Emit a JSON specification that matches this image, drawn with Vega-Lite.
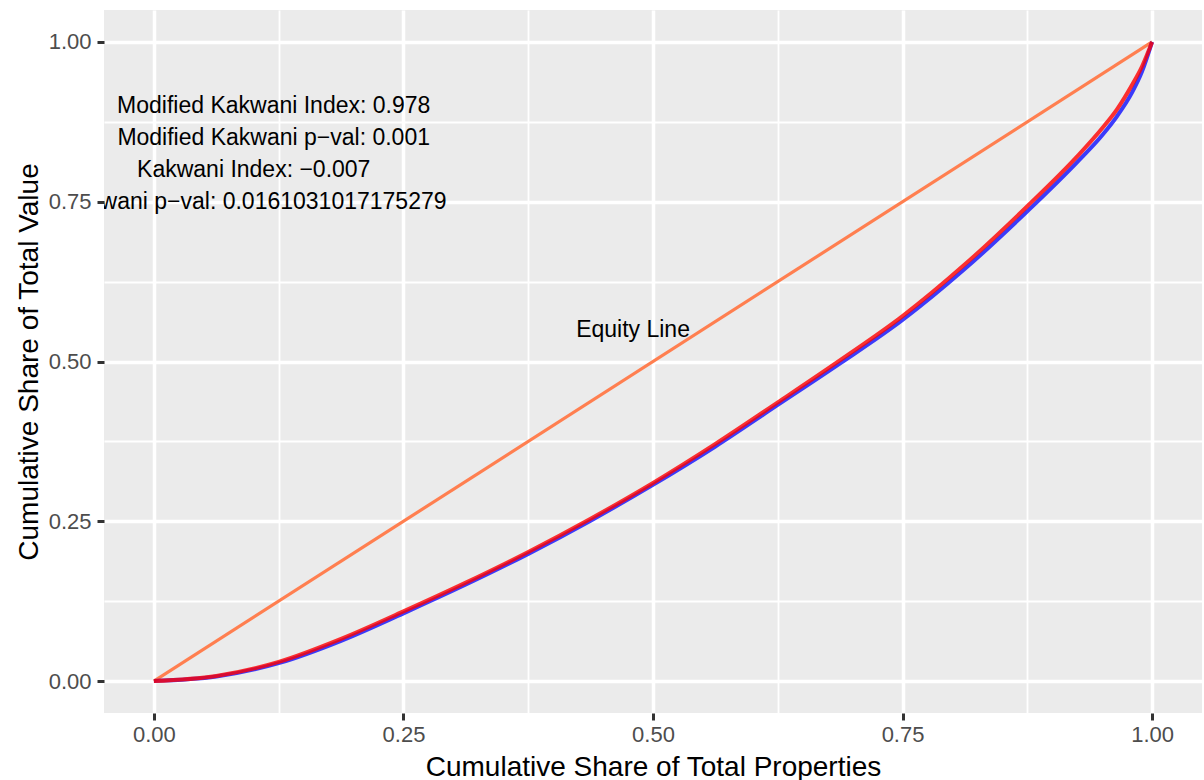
{
  "$schema": "https://vega.github.io/schema/vega-lite/v6.json",
  "width": 1098,
  "height": 703,
  "autosize": {"type": "none"},
  "padding": {"left": 104, "top": 10, "right": 2, "bottom": 67},
  "background": "white",
  "config": {
    "view": {"fill": "#EBEBEB", "stroke": null},
    "font": "Liberation Sans"
  },
  "datasets": {
    "equity": [
      {"x": 0, "y": 0},
      {"x": 1, "y": 1}
    ],
    "lorenz": [
      {"x": 0, "y": 0},
      {"x": 0.0625, "y": 0.007},
      {"x": 0.125, "y": 0.028},
      {"x": 0.1875, "y": 0.063},
      {"x": 0.25, "y": 0.106},
      {"x": 0.3125, "y": 0.151},
      {"x": 0.375, "y": 0.199},
      {"x": 0.4375, "y": 0.251},
      {"x": 0.5, "y": 0.307},
      {"x": 0.5625, "y": 0.367},
      {"x": 0.625, "y": 0.432},
      {"x": 0.6875, "y": 0.497},
      {"x": 0.75, "y": 0.565},
      {"x": 0.8125, "y": 0.645},
      {"x": 0.875, "y": 0.735},
      {"x": 0.925, "y": 0.812},
      {"x": 0.95, "y": 0.854},
      {"x": 0.965, "y": 0.884},
      {"x": 0.98, "y": 0.921},
      {"x": 0.99, "y": 0.954},
      {"x": 1, "y": 1}
    ],
    "concentration": [
      {"x": 0, "y": 0},
      {"x": 0.0625, "y": 0.008},
      {"x": 0.125, "y": 0.030},
      {"x": 0.1875, "y": 0.066},
      {"x": 0.25, "y": 0.109},
      {"x": 0.3125, "y": 0.154},
      {"x": 0.375, "y": 0.202},
      {"x": 0.4375, "y": 0.254},
      {"x": 0.5, "y": 0.310},
      {"x": 0.5625, "y": 0.371},
      {"x": 0.625, "y": 0.436},
      {"x": 0.6875, "y": 0.502},
      {"x": 0.75, "y": 0.571},
      {"x": 0.8125, "y": 0.652},
      {"x": 0.875, "y": 0.743},
      {"x": 0.925, "y": 0.821},
      {"x": 0.95, "y": 0.865},
      {"x": 0.965, "y": 0.895},
      {"x": 0.98, "y": 0.933},
      {"x": 0.99, "y": 0.962},
      {"x": 1, "y": 1}
    ],
    "notes": [
      {"x": 0.12, "y": 0.9, "label": "Modified Kakwani Index: 0.978"},
      {"x": 0.12, "y": 0.85, "label": "Modified Kakwani p−val: 0.001"},
      {"x": 0.1, "y": 0.8, "label": "Kakwani Index: −0.007"},
      {"x": 0.1, "y": 0.75, "label": "Kakwani p−val: 0.0161031017175279"},
      {"x": 0.48, "y": 0.55, "label": "Equity Line"}
    ]
  },
  "encoding": {
    "x": {
      "field": "x",
      "type": "quantitative",
      "scale": {"domain": [-0.05, 1.05], "nice": false, "zero": false},
      "axis": {
        "title": "Cumulative Share of Total Properties",
        "values": [0, 0.125, 0.25, 0.375, 0.5, 0.625, 0.75, 0.875, 1],
        "labelExpr": "datum.value * 4 % 1 === 0 ? format(datum.value, '.2f') : ''",
        "labelOverlap": false,
        "labelFlush": false,
        "domain": false,
        "grid": true,
        "gridColor": "white",
        "gridOpacity": 1,
        "gridWidth": {"condition": {"test": "datum.value * 4 % 1 === 0", "value": 3.5}, "value": 1.8},
        "ticks": true,
        "tickColor": "#333333",
        "tickSize": 7,
        "tickWidth": 3,
        "tickOpacity": {"condition": {"test": "datum.value * 4 % 1 === 0", "value": 1}, "value": 0},
        "labelFont": "Liberation Sans",
        "labelFontSize": 22,
        "labelColor": "#4D4D4D",
        "labelPadding": 4,
        "titleFont": "Liberation Sans",
        "titleFontSize": 28,
        "titleFontWeight": "normal",
        "titleColor": "#000000",
        "titleBaseline": "alphabetic",
        "titleX": 549,
        "titleY": 62
      }
    },
    "y": {
      "field": "y",
      "type": "quantitative",
      "scale": {"domain": [-0.05, 1.05], "nice": false, "zero": false},
      "axis": {
        "title": "Cumulative Share of Total Value",
        "values": [0, 0.125, 0.25, 0.375, 0.5, 0.625, 0.75, 0.875, 1],
        "labelExpr": "datum.value * 4 % 1 === 0 ? format(datum.value, '.2f') : ''",
        "labelOverlap": false,
        "labelFlush": false,
        "domain": false,
        "grid": true,
        "gridColor": "white",
        "gridOpacity": 1,
        "gridWidth": {"condition": {"test": "datum.value * 4 % 1 === 0", "value": 3.5}, "value": 1.8},
        "ticks": true,
        "tickColor": "#333333",
        "tickSize": 7,
        "tickWidth": 3,
        "tickOpacity": {"condition": {"test": "datum.value * 4 % 1 === 0", "value": 1}, "value": 0},
        "labelFont": "Liberation Sans",
        "labelFontSize": 22,
        "labelColor": "#4D4D4D",
        "labelPadding": 6,
        "titleFont": "Liberation Sans",
        "titleFontSize": 28,
        "titleFontWeight": "normal",
        "titleColor": "#000000",
        "titleBaseline": "alphabetic",
        "titleAngle": -90,
        "titleX": -67,
        "titleY": 351.5
      }
    }
  },
  "layer": [
    {
      "data": {"name": "equity"},
      "mark": {"type": "line", "color": "#FF7F50", "strokeWidth": 3.2, "clip": true}
    },
    {
      "data": {"name": "lorenz"},
      "mark": {"type": "line", "color": "#0000FF", "strokeWidth": 4, "opacity": 0.75, "interpolate": "monotone", "clip": true}
    },
    {
      "data": {"name": "concentration"},
      "mark": {"type": "line", "color": "#FF0000", "strokeWidth": 4, "opacity": 0.8, "interpolate": "monotone", "clip": true}
    },
    {
      "data": {"name": "notes"},
      "mark": {"type": "text", "align": "center", "baseline": "middle", "font": "Liberation Sans", "fontSize": 23, "color": "#000000", "clip": true},
      "encoding": {"text": {"field": "label", "type": "nominal"}}
    }
  ]
}
